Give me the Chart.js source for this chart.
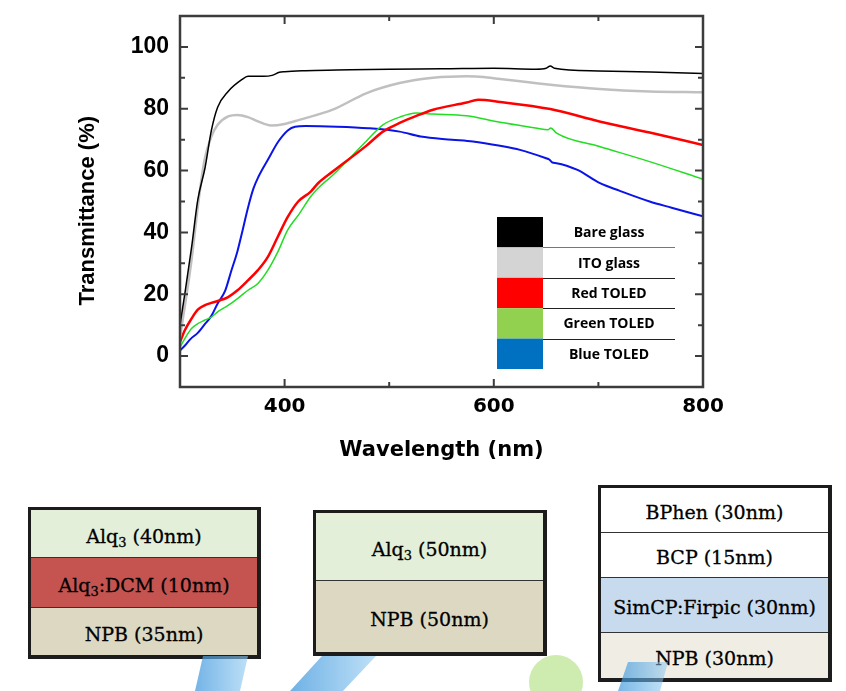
<!DOCTYPE html>
<html>
<head>
<meta charset="utf-8">
<script src="https://cdn.jsdelivr.net/npm/chart.js@4.4.0/dist/chart.umd.min.js"></script>
<style>
  body { margin: 0; background: #fff; }
  #page { position: relative; width: 846px; height: 691px; overflow: hidden; }
  #chartBox { position: absolute; left: 0; top: 0; width: 846px; height: 470px; }
  .stack { position: absolute; box-sizing: border-box; border: 3px solid #1c1c1c; border-right-width: 4px; border-bottom-width: 4px; display: flex; flex-direction: column; }
  .layer { display: flex; align-items: center; justify-content: center; padding-top: 5px; font-family: 'DejaVu Serif', serif; font-size: 19px; color: #000; -webkit-text-stroke: 0.3px #000; box-sizing: border-box; }
  .layer + .layer { border-top: 1.5px solid #333; }
  .layer sub { font-size: 13px; vertical-align: -4px; line-height: 0; }
  .wm { position: absolute; }
</style>
</head>
<body>
<div id="page">
  <div id="chartBox"><canvas id="transChart" width="846" height="470"></canvas></div>

  <!-- red device -->
  <div class="stack" style="left:28px; top:507px; width:233px; height:152px;">
    <div class="layer" style="flex:47; background:#e3efd9;"><span>Alq<sub>3</sub>&nbsp;(40nm)</span></div>
    <div class="layer" style="flex:50; background:#c55450;"><span>Alq<sub>3</sub>:DCM (10nm)</span></div>
    <div class="layer" style="flex:47; background:#ddd8c2;"><span>NPB (35nm)</span></div>
  </div>
  <!-- green device -->
  <div class="stack" style="left:313px; top:510px; width:234px; height:146px;">
    <div class="layer" style="flex:70; background:#e3efd9;"><span>Alq<sub>3</sub>&nbsp;(50nm)</span></div>
    <div class="layer" style="flex:74; background:#ddd8c2;"><span>NPB (50nm)</span></div>
  </div>
  <!-- blue device -->
  <div class="stack" style="left:598px; top:485px; width:234px; height:197px;">
    <div class="layer" style="flex:45; background:#ffffff;"><span>BPhen (30nm)</span></div>
    <div class="layer" style="flex:46; background:#ffffff;"><span>BCP (15nm)</span></div>
    <div class="layer" style="flex:57; background:#c7daee;"><span>SimCP:Firpic (30nm)</span></div>
    <div class="layer" style="flex:47; background:#f0eee4;"><span>NPB (30nm)</span></div>
  </div>

  <!-- faint watermark shapes -->
  <div class="wm" style="left:190px; top:656px; width:60px; height:35px; clip-path:polygon(13px 0,58px 0,50px 35px,5px 35px); background:linear-gradient(90deg, rgba(60,150,220,0.75), rgba(150,205,242,0.6));"></div>
  <div class="wm" style="left:288px; top:656px; width:90px; height:35px; clip-path:polygon(34px 0,88px 0,55px 35px,2px 35px); background:linear-gradient(90deg, rgba(60,150,220,0.75), rgba(150,205,242,0.6));"></div>
  <div class="wm" style="left:529px; top:655px; width:54px; height:54px; border-radius:50%; background:rgba(190,228,150,0.75);"></div>
  <div class="wm" style="left:616px; top:662px; width:54px; height:29px; clip-path:polygon(12px 0,52px 0,44px 29px,2px 29px); background:linear-gradient(90deg, rgba(60,150,220,0.7), rgba(150,205,242,0.5));"></div>
</div>

<script>
// wavelength (nm) / transmittance (%)
const bareWl = [300, 305, 311, 317, 324, 330, 336, 346, 359, 365, 380, 388, 395, 400, 420, 450, 500, 550, 600, 640, 650, 654, 658, 700, 750, 800];
const bareT  = [10, 21, 35, 50.5, 61, 73, 80.5, 85.6, 89.4, 90.5, 90.5, 90.8, 91.8, 92, 92.3, 92.5, 92.8, 92.9, 93.1, 92.8, 93.1, 93.8, 93.1, 92.2, 91.9, 91.4];

const itoWl = [300, 304.5, 311, 317, 323.5, 330, 336, 346, 355, 365, 374.5, 387, 400, 414, 446, 478, 510, 542, 574, 590, 606, 654, 701, 749, 800];
const itoT  = [6, 15.9, 31, 48.3, 63.5, 71, 74.8, 77.5, 78, 77.3, 75.9, 74.6, 75.1, 76.4, 79.7, 85, 88.3, 90, 90.5, 90.3, 89.6, 87.8, 86.4, 85.6, 85.3];

const redWl = [300, 304.5, 311, 317, 323.5, 330, 336, 346, 355, 365, 374.5, 384, 393.5, 403, 413, 425, 432, 446, 478, 494, 510, 526, 542, 574, 585, 606, 654, 701, 749, 800];
const redT  = [4.5, 8.3, 12.1, 15, 16.4, 17.2, 17.8, 19.1, 21.3, 24.5, 27.8, 32.1, 38.6, 45, 50, 53.2, 55.9, 59.7, 68, 72.6, 75.4, 77.7, 79.7, 82, 82.9, 82.2, 79.9, 75.9, 72.3, 68.3];

const greenWl = [300, 304.5, 311, 317, 323.5, 330, 336, 346, 355, 365, 374.5, 384, 393.5, 403, 414, 425, 432, 446, 478, 494, 510, 526, 542, 574, 606, 640, 652, 654.5, 660, 701, 749, 800];
const greenT  = [2.9, 5.6, 8.9, 10.5, 11.6, 12.6, 14.3, 16.4, 18.6, 21.3, 23.5, 27.8, 33.7, 40.8, 46, 51.6, 54.3, 58.5, 69.5, 74.8, 77.3, 78.6, 78.3, 77.7, 75.6, 73.8, 73.2, 73.8, 72.1, 67.8, 62.9, 57.2];

const blueWl = [300, 305, 310, 317, 323, 330, 336, 343, 349, 355, 359, 365, 370, 375, 384, 394, 403, 410, 420, 450, 480, 510, 530, 560, 580, 606, 625, 650, 653, 656, 660, 680, 701, 720, 749, 770, 800];
const blueT  = [1.8, 3.5, 5.5, 7.5, 10, 13, 17, 21, 27.5, 34, 39.5, 48, 54, 58, 63.5, 69.4, 73, 74.2, 74.4, 74.2, 73.7, 72.6, 71, 70, 69.4, 68, 66.7, 64, 63.6, 62.6, 62.4, 60.2, 56, 53.5, 50, 48, 45.2];

const seriesNames  = ['Bare glass', 'ITO glass', 'Red TOLED', 'Green TOLED', 'Blue TOLED'];
const lineColors   = ['#000000', '#c0c0c0', '#ff0000', '#22dd22', '#0a14e6'];
const swatchColors = ['#000000', '#d4d4d4', '#ff0000', '#92d050', '#0070c0'];
const lineWidths   = [1.5, 2.5, 2.5, 1.5, 2];

const xTicks = [400, 600, 800];
const xMinor = [500, 700];
const yTicks = [0, 20, 40, 60, 80, 100];
const yMinor = [10, 30, 50, 70, 90];

function pts(wl, t) {
    return wl.map((w, i) => ({ x: w, y: t[i] }));
}

const allWl = [bareWl, itoWl, redWl, greenWl, blueWl];
const allT  = [bareT, itoT, redT, greenT, blueT];

// frame with inward ticks on all four sides
const framePlugin = {
    id: 'frame',
    afterDatasetsDraw(chart) {
        const { ctx, chartArea: a, scales: { x, y } } = chart;
        ctx.save();
        ctx.strokeStyle = '#3c3c3c';
        ctx.lineWidth = 2.5;
        ctx.strokeRect(a.left, a.top, a.right - a.left, a.bottom - a.top);
        ctx.lineWidth = 2;
        function xt(vals, len) {
            vals.forEach(v => {
                const px = x.getPixelForValue(v);
                ctx.beginPath();
                ctx.moveTo(px, a.bottom); ctx.lineTo(px, a.bottom - len);
                ctx.moveTo(px, a.top); ctx.lineTo(px, a.top + len);
                ctx.stroke();
            });
        }
        function yt(vals, len) {
            vals.forEach(v => {
                const py = y.getPixelForValue(v);
                ctx.beginPath();
                ctx.moveTo(a.left, py); ctx.lineTo(a.left + len, py);
                ctx.moveTo(a.right, py); ctx.lineTo(a.right - len, py);
                ctx.stroke();
            });
        }
        xt(xTicks, 8); xt(xMinor, 5);
        yt(yTicks, 8); yt(yMinor, 5);
        ctx.restore();
    }
};

// table-style legend in the lower right
const legendPlugin = {
    id: 'boxLegend',
    afterDraw(chart) {
        const { ctx, chartArea: a } = chart;
        const left = a.left + 317, top = a.top + 201, sw = 46, rowH = 30.4, lineEnd = a.left + 495;
        ctx.save();
        ctx.font = 'bold 14px "Open Sans"';
        ctx.textAlign = 'center';
        ctx.textBaseline = 'middle';
        seriesNames.forEach((name, i) => {
            const ry = top + i * rowH;
            ctx.fillStyle = swatchColors[i];
            ctx.fillRect(left, ry, sw, rowH);
            ctx.fillStyle = '#000';
            ctx.fillText(name, left + sw + (lineEnd - left - sw) / 2, ry + rowH / 2 + 1);
            if (i > 0) {
                ctx.strokeStyle = i === 1 ? '#777' : '#222';
                ctx.lineWidth = 1;
                ctx.beginPath();
                ctx.moveTo(left + sw, Math.round(ry) + 0.5);
                ctx.lineTo(lineEnd, Math.round(ry) + 0.5);
                ctx.stroke();
            }
        });
        ctx.restore();
    }
};

const transChart = new Chart(document.getElementById('transChart').getContext('2d'), {
    type: 'line',
    data: {
        datasets: seriesNames.map((name, i) => ({
            label: name,
            data: pts(allWl[i], allT[i]),
            borderColor: lineColors[i],
            borderWidth: lineWidths[i],
            pointRadius: 0,
            fill: false,
            cubicInterpolationMode: 'monotone'
        }))
    },
    options: {
        responsive: false,
        animation: false,
        layout: { padding: { left: 0, top: 16, right: 143, bottom: 0 } },
        scales: {
            x: {
                type: 'linear',
                min: 300,
                max: 800,
                afterBuildTicks: s => { s.ticks = xTicks.map(v => ({ value: v })); },
                afterFit: s => { s.height = 83; },
                grid: { display: false, drawTicks: false },
                border: { display: false },
                ticks: {
                    color: '#000',
                    padding: 8,
                    font: { family: '"DejaVu Sans"', weight: 'bold', size: 20 }
                },
                title: {
                    display: true,
                    text: 'Wavelength (nm)',
                    color: '#000',
                    padding: { top: 0, bottom: 7 },
                    font: { family: '"DejaVu Sans"', weight: 'bold', size: 21 }
                }
            },
            y: {
                type: 'linear',
                min: -10,
                max: 110,
                afterBuildTicks: s => { s.ticks = yTicks.map(v => ({ value: v })); },
                afterFit: s => { s.width = 180; },
                grid: { display: false, drawTicks: false },
                border: { display: false },
                ticks: {
                    color: '#000',
                    padding: 11,
                    font: { family: '"Liberation Sans", Arial', weight: 'bold', size: 23, lineHeight: 0.4 }
                },
                title: {
                    display: true,
                    text: 'Transmittance (%)   ',
                    color: '#000',
                    padding: { top: 75, bottom: 0 },
                    font: { family: '"Liberation Sans", Arial', weight: 'bold', size: 22 }
                }
            }
        },
        plugins: {
            legend: { display: false },
            tooltip: { enabled: false }
        }
    },
    plugins: [framePlugin, legendPlugin]
});
</script>
</body>
</html>
